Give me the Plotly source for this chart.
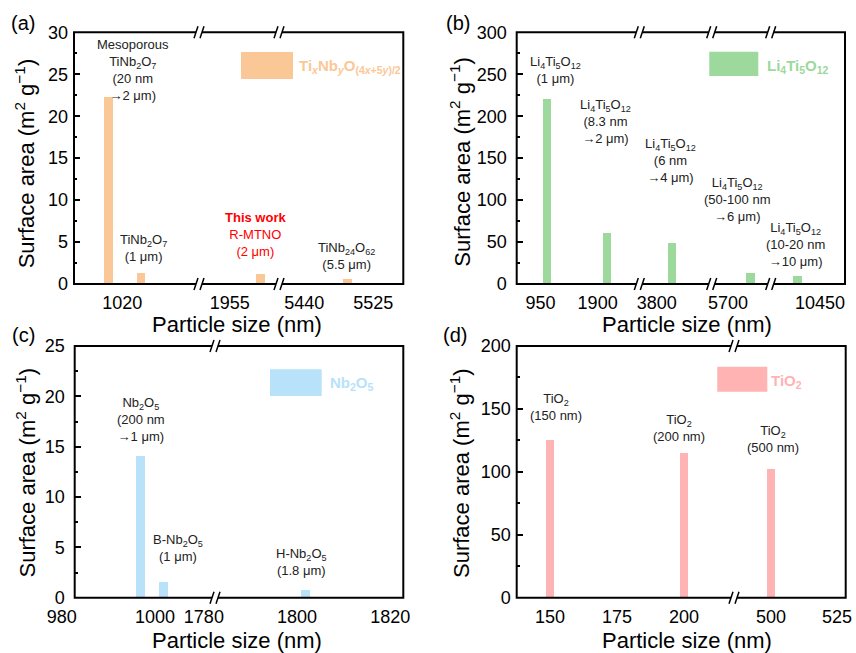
import plotly.graph_objects as go

W, H = 856, 653
FONT = "Liberation Sans, Arial, Helvetica, sans-serif"

# ------------------------- DATA -------------------------
# (a) TixNbyO(4x+5y)/2
a_size = [1003, 1043, 1993, 5493]          # particle size axis position (nm)
a_area = [22.2, 1.3, 1.2, 0.55]            # surface area (m2 g-1)
a_ticks = [[1020], [1955], [5440, 5525]]   # tick labels per axis segment
a_labels = ["Mesoporous<br>TiNb<sub>2</sub>O<sub>7</sub><br>(20 nm<br>→2 μm)",
            "TiNb<sub>2</sub>O<sub>7</sub><br>(1 μm)",
            "<b>This work</b><br>R-MTNO<br>(2 μm)",
            "TiNb<sub>24</sub>O<sub>62</sub><br>(5.5 μm)"]
a_name = "<b>Ti<sub><i>x</i></sub>Nb<sub><i>y</i></sub>O<sub>(4<i>x</i>+5<i>y</i>)/2</sub></b>"

# (b) Li4Ti5O12
b_size = [1000, 2000, 4000, 6000, 10000]
b_area = [220, 60, 48, 13, 9]
b_ticks = [[950, 1900], [3800], [5700], [10450]]
LTO = "Li<sub>4</sub>Ti<sub>5</sub>O<sub>12</sub>"
b_labels = [LTO + "<br>(1 μm)",
            LTO + "<br>(8.3 nm<br>→2 μm)",
            LTO + "<br>(6 nm<br>→4 μm)",
            LTO + "<br>(50-100 nm<br>→6 μm)",
            LTO + "<br>(10-20 nm<br>→10 μm)"]
b_name = "<b>" + LTO + "</b>"

# (c) Nb2O5
c_size = [994, 999, 1799]
c_area = [14.1, 1.6, 0.8]
c_ticks = [[980, 1000], [1780, 1800, 1820]]
c_labels = ["Nb<sub>2</sub>O<sub>5</sub><br>(200 nm<br>→1 μm)",
            "B-Nb<sub>2</sub>O<sub>5</sub><br>(1 μm)",
            "H-Nb<sub>2</sub>O<sub>5</sub><br>(1.8 μm)"]
c_name = "<b>Nb<sub>2</sub>O<sub>5</sub></b>"

# (d) TiO2
d_size = [150, 200, 500]
d_area = [125, 115, 102]
d_ticks = [[150, 175, 200], [500, 525]]
d_labels = ["TiO<sub>2</sub><br>(150 nm)",
            "TiO<sub>2</sub><br>(200 nm)",
            "TiO<sub>2</sub><br>(500 nm)"]
d_name = "<b>TiO<sub>2</sub></b>"

# ------------------------- LAYOUT / STYLE -------------------------
panels = [
    dict(tag="(a)", x=a_size, y=a_area, ticks=a_ticks, labels=a_labels, name=a_name,
         color="#FAC896", frame=(74, 32.3, 403.3, 284), breaks=[199, 279],
         ranges=[[960.6, 1114.3], [1917.2, 2015.6], [5409.0, 5561.9]],
         yrange=[0, 30], dtick=5, shift=0, ystand=5,
         label_pos=[(132.5, 69.5), (143.6, 248.3), (255.8, 234.7), (346.7, 255.7)],
         label_col=["#222", "#222", "#FF0000", "#222"],
         leg_rect=(241, 52, 293, 79), leg_text=(297, 67),
         tag_pos=(23, 23), xt_pos=(236.7, 325), yt_pos=(25, 163.3)),
    dict(tag="(b)", x=b_size, y=b_area, ticks=b_ticks, labels=b_labels, name=b_name,
         color="#9DD89D", frame=(516.7, 32.3, 845, 284), breaks=[639.3, 711.7, 770.7],
         ranges=[[505, 2543], [3476, 4625], [5395, 6327], [9534, 10835]],
         yrange=[0, 300], dtick=50, shift=-3, ystand=9,
         label_pos=[(555.7, 69.7), (605, 121.7), (670.7, 160), (737.3, 199.3), (795, 244.5)],
         label_col=["#222"] * 5,
         leg_rect=(709.3, 51.7, 758.3, 76), leg_text=(765, 67),
         tag_pos=(458.3, 22.7), xt_pos=(687, 325), yt_pos=(460, 161.7)),
    dict(tag="(c)", x=c_size, y=c_area, ticks=c_ticks, labels=c_labels, name=c_name,
         color="#B8E2FA", frame=(74.7, 346, 403.3, 597.7), breaks=[215],
         ranges=[[980, 1010.1], [1779.6, 1820]],
         yrange=[0, 25], dtick=5, shift=-13, ystand=9,
         label_pos=[(141, 419), (178.3, 548.3), (301, 562)],
         label_col=["#222"] * 3,
         leg_rect=(270, 369.3, 321.7, 396), leg_text=(328, 383),
         tag_pos=(23.3, 335), xt_pos=(236.7, 640), yt_pos=(25, 472.5)),
    dict(tag="(d)", x=d_size, y=d_area, ticks=d_ticks, labels=d_labels, name=d_name,
         color="#FFB3B3", frame=(516.7, 346, 845.7, 597.7), breaks=[734],
         ranges=[[137.6, 218.7], [486, 528.3]],
         yrange=[0, 200], dtick=50, shift=0, ystand=5,
         label_pos=[(555.7, 407), (679.3, 427.5), (773.3, 439.3)],
         label_col=["#222"] * 3,
         leg_rect=(717.3, 366.7, 767.3, 391.7), leg_text=(769, 381),
         tag_pos=(455, 335), xt_pos=(687, 640), yt_pos=(460, 473)),
]

BAR_PX = 8.5


def px(x):
    return x / W


def py(y):
    return 1 - y / H


fig = go.Figure()
layout = dict(template="none", width=W, height=H, margin=dict(l=0, r=0, t=0, b=0, pad=0, autoexpand=False),
              paper_bgcolor="white", plot_bgcolor="rgba(0,0,0,0)",
              showlegend=False, font=dict(family=FONT, color="black"))
shapes, annos = [], []
xcount = 0

for pi, p in enumerate(panels):
    L, T, R, B = p["frame"]
    edges = [L] + p["breaks"] + [R]
    yname = "yaxis" if pi == 0 else f"yaxis{pi + 1}"
    yref = "y" if pi == 0 else f"y{pi + 1}"
    seg_axes = []
    for si, rng in enumerate(p["ranges"]):
        xcount += 1
        xname = "xaxis" if xcount == 1 else f"xaxis{xcount}"
        xref = "x" if xcount == 1 else f"x{xcount}"
        l, r = edges[si], edges[si + 1]
        layout[xname] = dict(domain=[px(l), px(r)], range=rng, anchor=yref, automargin=False,
                             tickvals=p["ticks"][si], ticktext=[str(t) for t in p["ticks"][si]],
                             ticks="", showgrid=False, zeroline=False, showline=False,
                             tickfont=dict(size=18, family=FONT, color="black"),
                             ticklabelshift=p["shift"], ticklabelstandoff=6,
                             fixedrange=True)
        seg_axes.append((xref, rng, l, r))
    layout[yname] = dict(domain=[py(B), py(T)], range=p["yrange"], anchor=seg_axes[0][0],
                         automargin=False,
                         dtick=p["dtick"], tick0=0, ticks="inside", ticklen=6, tickwidth=1.5,
                         tickcolor="black", showgrid=False, zeroline=False, showline=False,
                         minor=dict(ticks="inside", ticklen=3, tickwidth=1.5, dtick=p["dtick"] / 2,
                                    tickcolor="black", showgrid=False),
                         tickfont=dict(size=18, family=FONT, color="black"),
                         ticklabelstandoff=p["ystand"], fixedrange=True)

    # bars: each bar goes on the axis segment whose range contains its x
    for xref, rng, l, r in seg_axes:
        xs = [x for x in p["x"] if rng[0] <= x <= rng[1]]
        ys = [y for x, y in zip(p["x"], p["y"]) if rng[0] <= x <= rng[1]]
        if not xs:
            continue
        w = BAR_PX * (rng[1] - rng[0]) / (r - l)
        fig.add_trace(go.Bar(x=xs, y=ys, width=[w] * len(xs), xaxis=xref, yaxis=yref,
                             marker=dict(color=p["color"], line=dict(width=0)),
                             hoverinfo="x+y"))

    # frame
    shapes.append(dict(type="rect", xref="paper", yref="paper", x0=px(L), x1=px(R),
                       y0=py(B), y1=py(T), line=dict(color="black", width=2),
                       fillcolor="rgba(0,0,0,0)", layer="above"))
    # axis breaks "//"
    for bx in p["breaks"]:
        for yy in (T, B):
            shapes.append(dict(type="rect", xref="paper", yref="paper",
                               x0=px(bx - 3), x1=px(bx + 3), y0=py(yy + 1.6), y1=py(yy - 1.6),
                               line=dict(width=0), fillcolor="white", layer="above"))
            for dx in (-3, 3):
                shapes.append(dict(type="line", xref="paper", yref="paper",
                                   x0=px(bx + dx - 2), x1=px(bx + dx + 2),
                                   y0=py(yy + 6), y1=py(yy - 6),
                                   line=dict(color="black", width=1.5), layer="above"))
    # legend key
    x0, y0, x1, y1 = p["leg_rect"]
    shapes.append(dict(type="rect", xref="paper", yref="paper", x0=px(x0), x1=px(x1),
                       y0=py(y1), y1=py(y0), line=dict(width=0), fillcolor=p["color"]))
    annos.append(dict(xref="paper", yref="paper", x=px(p["leg_text"][0]), y=py(p["leg_text"][1]),
                      text=p["name"], showarrow=False, xanchor="left", yanchor="middle",
                      font=dict(size=15, color=p["color"], family=FONT)))
    # bar labels
    for txt, (lx, ly), col in zip(p["labels"], p["label_pos"], p["label_col"]):
        annos.append(dict(xref="paper", yref="paper", x=px(lx), y=py(ly), text=txt,
                          showarrow=False, xanchor="center", yanchor="middle", align="center",
                          font=dict(size=13, color=col, family=FONT)))
    # panel tag
    annos.append(dict(xref="paper", yref="paper", x=px(p["tag_pos"][0]), y=py(p["tag_pos"][1]),
                      text=p["tag"], showarrow=False, xanchor="center", yanchor="middle",
                      font=dict(size=20, color="black", family=FONT)))
    # axis titles
    annos.append(dict(xref="paper", yref="paper", x=px(p["xt_pos"][0]), y=py(p["xt_pos"][1]),
                      text="Particle size (nm)", showarrow=False, xanchor="center",
                      yanchor="middle", font=dict(size=22, color="black", family=FONT)))
    annos.append(dict(xref="paper", yref="paper", x=px(p["yt_pos"][0]), y=py(p["yt_pos"][1]),
                      text="Surface area (m<sup>2</sup> g<sup>−1</sup>)", showarrow=False,
                      textangle=-90, xanchor="center", yanchor="middle",
                      font=dict(size=22, color="black", family=FONT)))

layout["shapes"] = shapes
layout["annotations"] = annos
layout["bargap"] = 0
fig.update_layout(**layout)
fig.write_html("out.html")
